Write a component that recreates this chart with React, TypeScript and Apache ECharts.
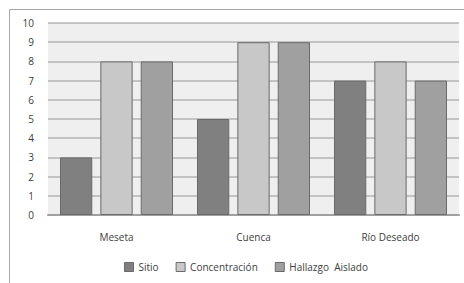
import React, { useEffect, useRef } from "react";
import * as echarts from "echarts";

const categories = ["Meseta", "Cuenca", "Río Deseado"];
const sitio = [3, 5, 7];
const concentracion = [8, 9, 8];
const hallazgo = [8, 9, 7];
const seriesNames = ["Sitio", "Concentración", "Hallazgo  Aislado"];
const colors = ["#808080", "#c8c8c8", "#a0a0a0"];

export default function App() {
  const ref = useRef<HTMLDivElement>(null);
  useEffect(() => {
    const chart = echarts.init(ref.current!, null, { renderer: "svg" });
    const font = "'Open Sans', sans-serif";
    const mk = (name: string, data: number[], color: string) => ({
      name,
      type: "bar",
      data,
      barGap: "25%",
      barCategoryGap: "17.5%",
      itemStyle: { color, borderColor: "#6a6a6a", borderWidth: 1 },
    });
    chart.setOption({
      animation: false,
      backgroundColor: "#ffffff",
      textStyle: { fontFamily: font },
      graphic: [
        {
          type: "rect",
          shape: { x: 9.5, y: 9.5, width: 470, height: 290 },
          style: { fill: "none", stroke: "#a6a6a6", lineWidth: 1 },
          silent: true,
        },
      ],
      grid: { left: 48, top: 23, right: 5, bottom: 68, backgroundColor: "#efefef", show: true, borderWidth: 0 },
      legend: {
        bottom: 6,
        left: 119,
        itemWidth: 9,
        itemHeight: 9,
        itemGap: 17,
        icon: "rect",
        textStyle: { fontSize: 10, color: "#404040", fontFamily: font },
        itemStyle: { borderColor: "#6a6a6a", borderWidth: 1 },
        data: seriesNames,
      },
      xAxis: {
        type: "category",
        data: categories,
        axisTick: { show: false },
        axisLine: { lineStyle: { color: "#a0a0a0", width: 2 } },
        axisLabel: { fontSize: 10, color: "#404040", margin: 17 },
      },
      yAxis: {
        type: "value",
        min: 0,
        max: 10,
        interval: 1,
        axisLine: { show: false },
        axisTick: { show: false },
        axisLabel: { fontSize: 10, color: "#404040", margin: 14 },
        splitLine: { lineStyle: { color: "#b4b4b4", width: 1.5 } },
      },
      series: [
        mk(seriesNames[0], sitio, colors[0]),
        mk(seriesNames[1], concentracion, colors[1]),
        mk(seriesNames[2], hallazgo, colors[2]),
      ],
    });
    return () => chart.dispose();
  }, []);
  return (
    <div
      ref={ref}
      style={{ position: "absolute", left: 0, top: 0, width: 464, height: 283 }}
    />
  );
}
